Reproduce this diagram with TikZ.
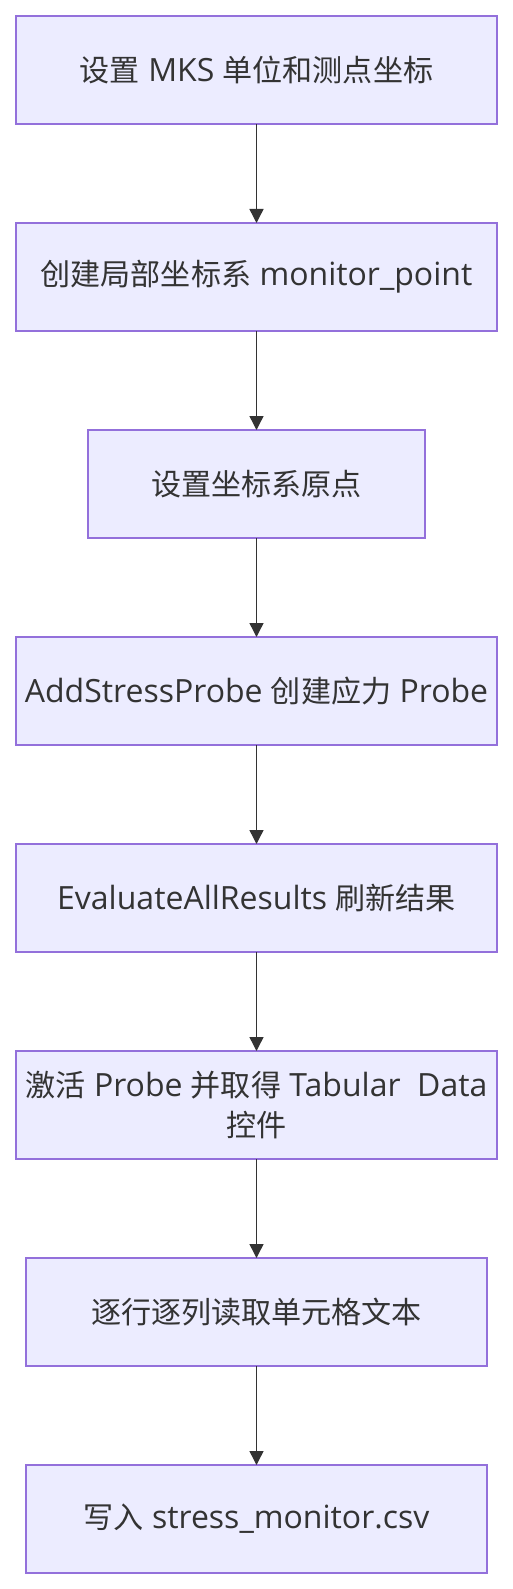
\documentclass[tikz,border=0pt]{standalone}
\usepackage{fontspec}
\setmainfont{Open Sans}
\newfontfamily\cjkfont{Noto Sans CJK SC}[Scale=0.94]
\newcommand{\zh}[1]{{\cjkfont #1}}
\usetikzlibrary{arrows.meta}
\definecolor{boxfill}{HTML}{ECECFF}
\definecolor{boxdraw}{HTML}{9370DB}
\definecolor{txt}{HTML}{333333}
\definecolor{arrowc}{HTML}{333333}
\begin{document}
\begin{tikzpicture}[x=1pt,y=-1pt,
  stepbox/.style={draw=boxdraw, fill=boxfill, line width=1.4pt, inner sep=0pt, outer sep=0pt,
    minimum height=108pt, text=txt, align=center,
    font=\fontsize{32}{40}\selectfont},
  wide/.style={minimum width=481pt},
  arr/.style={draw=arrowc, line width=1.4pt, -{Triangle[length=14pt,width=14pt]}}]
\useasboundingbox (0,0) rectangle (512,1589);
\node[stepbox, wide] (n1) at (256.5,70) {\zh{设置} MKS \zh{单位和测点坐标}};
\node[stepbox, wide] (n2) at (256.5,277) {\zh{创建局部坐标系} monitor\_point};
\node[stepbox, minimum width=337pt] (n3) at (256.5,484) {\zh{设置坐标系原点}};
\node[stepbox, wide] (n4) at (256.5,691) {AddStressProbe \zh{创建应力} Probe};
\node[stepbox, wide] (n5) at (256.5,898) {EvaluateAllResults \zh{刷新结果}};
\node[stepbox, wide] (n6) at (256.5,1105) {\zh{激活} Probe \zh{并取得} Tabular~\ Data\\\zh{控件}};
\node[stepbox, minimum width=461pt] (n7) at (256.5,1312) {\zh{逐行逐列读取单元格文本}};
\node[stepbox, minimum width=461pt] (n8) at (256.5,1519) {\zh{写入} stress\_monitor.csv};
\draw[arr] (n1) -- (n2);
\draw[arr] (n2) -- (n3);
\draw[arr] (n3) -- (n4);
\draw[arr] (n4) -- (n5);
\draw[arr] (n5) -- (n6);
\draw[arr] (n6) -- (n7);
\draw[arr] (n7) -- (n8);
\end{tikzpicture}
\end{document}
